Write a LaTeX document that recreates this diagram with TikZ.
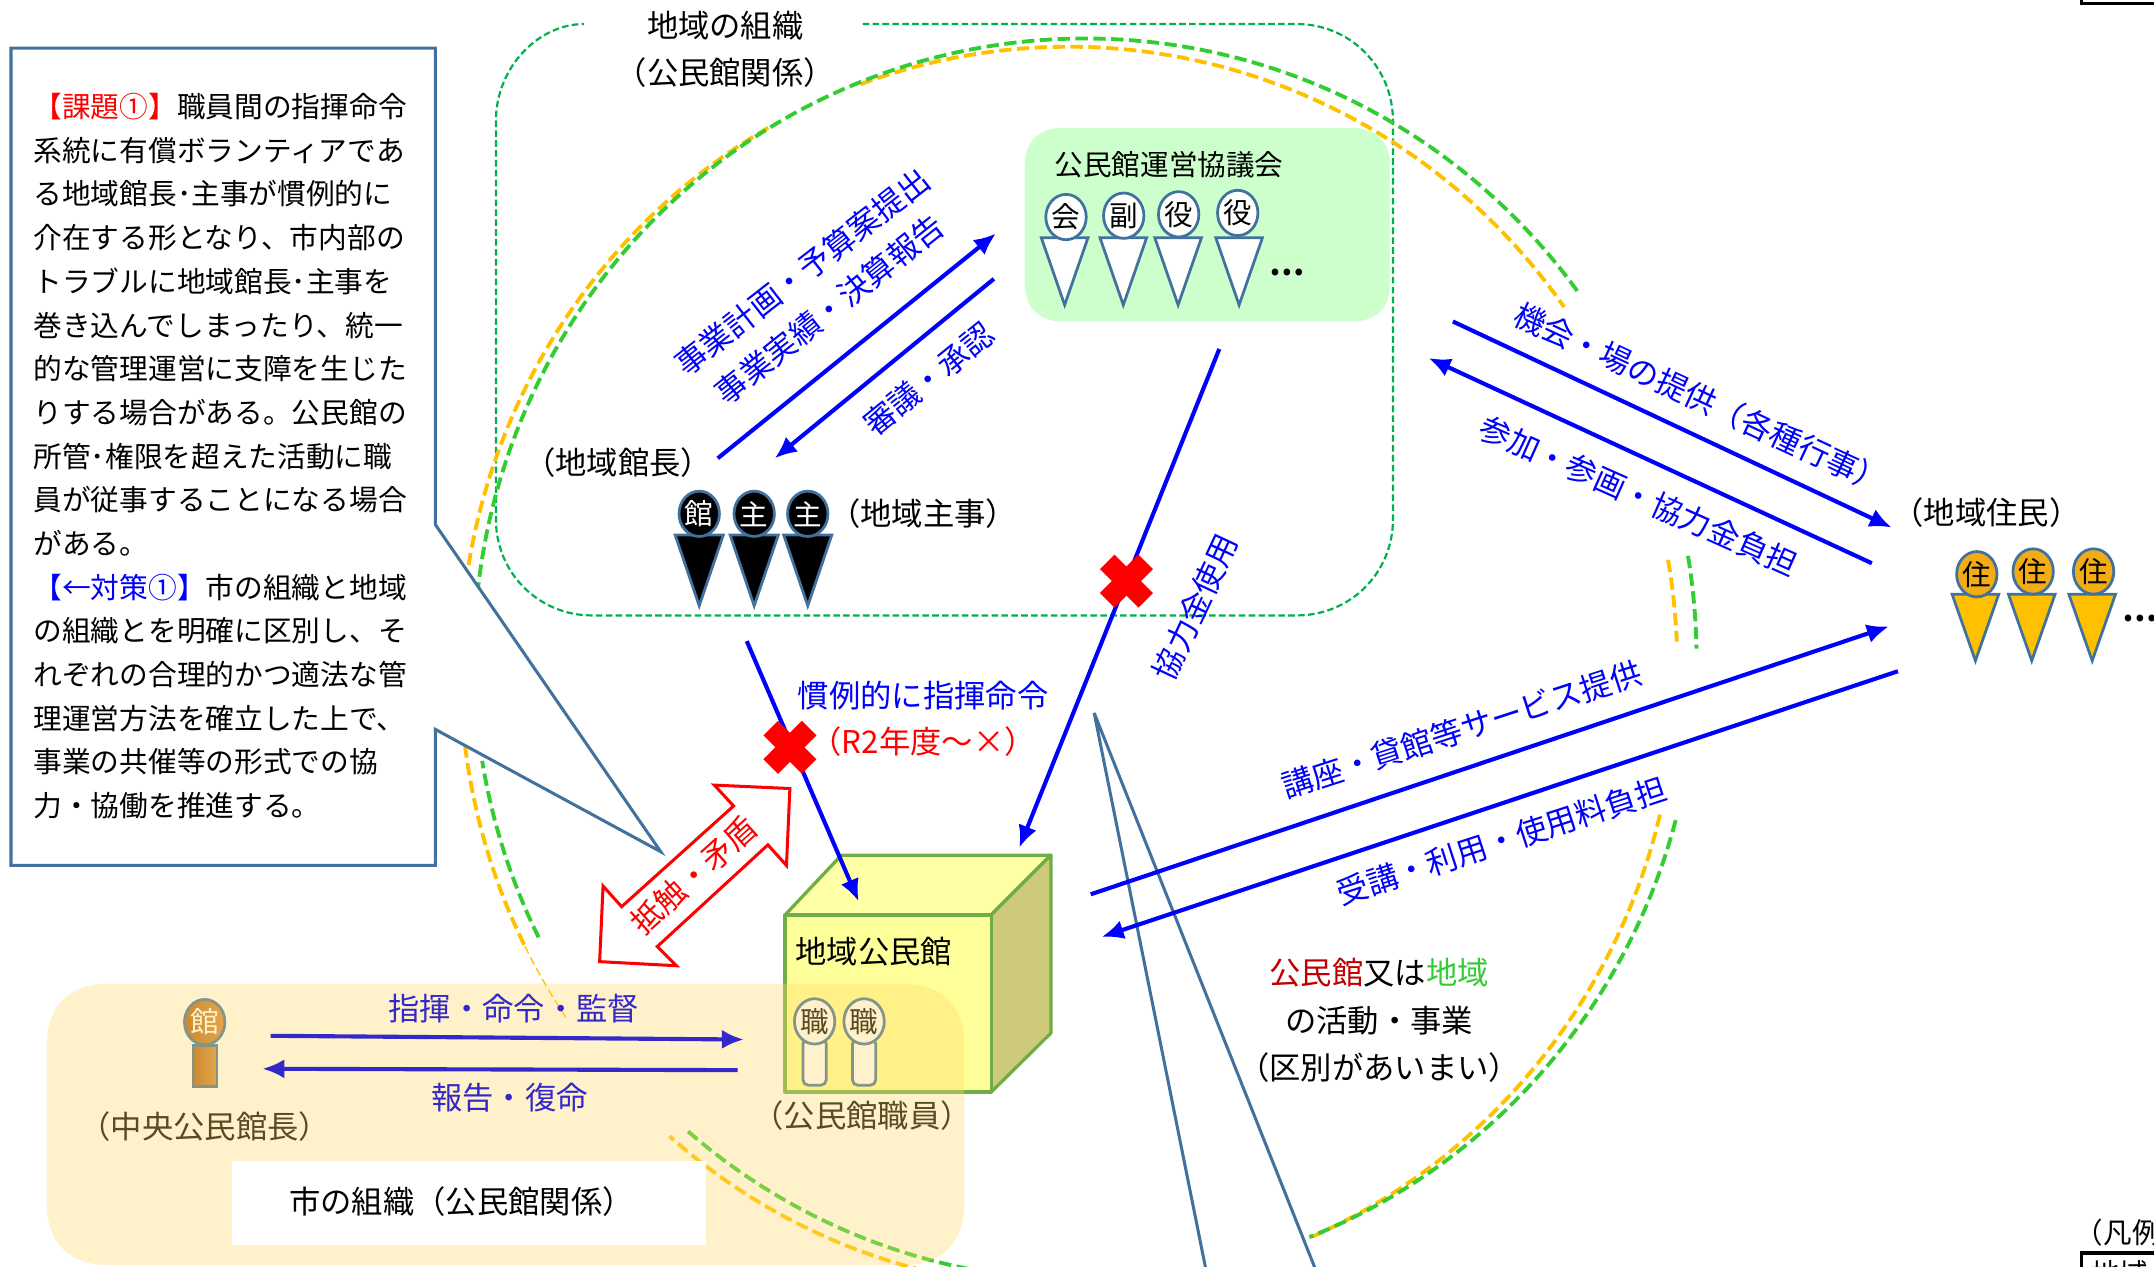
\documentclass[tikz,border=0pt]{standalone}
\usepackage{fontspec}
\setmainfont{Noto Sans CJK JP}
\usetikzlibrary{arrows.meta,shapes.geometric}
\definecolor{gline}{HTML}{00B050}
\definecolor{garc}{HTML}{33CC33}
\definecolor{oarc}{HTML}{FFC000}
\definecolor{ohead}{HTML}{F4AC14}
\definecolor{steel}{HTML}{41719C}
\definecolor{bluet}{HTML}{0000FF}
\definecolor{bluec}{HTML}{3328C8}
\definecolor{council}{HTML}{CCFFCC}
\definecolor{houseline}{HTML}{70AD47}
\definecolor{housetop}{HTML}{FFFFA6}
\definecolor{housefront}{HTML}{FFFF99}
\definecolor{houseside}{HTML}{CDCB7A}
\definecolor{browndark}{HTML}{B06018}
\definecolor{brownlight}{HTML}{D68C3C}
\definecolor{cityfill}{HTML}{FFD966}
\tikzset{
  lbl/.style={inner sep=0pt,font=\fontsize{11.4}{14}\selectfont},
  bl/.style={lbl,text=bluet},
  blc/.style={lbl,text=bluec},
  small/.style={inner sep=0pt,font=\fontsize{10.4}{12}\selectfont},
  arrbase/.style={line width=1.5pt,-{Latex[length=8pt,width=7pt]}},
  arr/.style={arrbase,draw=bluet},
  arrc/.style={arrbase,draw=bluec},
  garcs/.style={draw=garc,line width=1.4pt,dash pattern=on 4.5pt off 2pt},
  oarcs/.style={draw=oarc,line width=1.4pt,dash pattern=on 4.5pt off 2pt},
  head/.style={ellipse,draw=steel,line width=1pt,minimum width=14pt,minimum height=16.5pt,inner sep=0pt,font=\fontsize{10.4}{12}\selectfont},
  tri/.style={draw=steel,line width=1pt,line join=miter},
  cross/.style={draw=red,line width=7.5pt},
  call/.style={draw=steel,fill=white,line width=1.1pt,line join=miter},
  housef/.style={draw=houseline,line width=1.2pt,line join=round},
}
\begin{document}
\begin{tikzpicture}[x=0.5pt,y=-0.5pt]
\useasboundingbox (0,0) rectangle (1568,921.6);
% regional organisation outline
\draw[gline,line width=0.8pt,dash pattern=on 2.4pt off 1.2pt]
  (628,17.5) -- (944,17.5) .. controls (983,17.5) and (1014,49) .. (1014,88)
  -- (1014,378) .. controls (1014,417) and (983,448) .. (944,448)
  -- (431,448) .. controls (392,448) and (361,417) .. (361,378)
  -- (361,88) .. controls (361,49) and (392,17.5) .. (425,17.5);
% council
\fill[council] (774,93) -- (984,93) .. controls (1002,93) and (1012,103) .. (1012,121)
  -- (1012,206) .. controls (1012,224) and (1002,234) .. (984,234) -- (774,234) .. controls (756,234) and (746,224) .. (746,206)
  -- (746,121) .. controls (746,103) and (756,93) .. (774,93) -- cycle;
% arcs
\foreach \a/\b in {189.5/240.4,250/324.5,-10/-2.4,13.7/66.9,102/131,153.5/173}{
  \draw[oarcs] plot[domain=\a:\b,samples=90,smooth] ({778+443*cos(\x)},{486+452*sin(\x)});
}
\foreach \a/\b in {186/324,-9.6/-1,15/68.5,101/131,153.4/170.6}{
  \draw[garcs] plot[domain=\a:\b,samples=90,smooth] ({790+445*cos(\x)},{480+452*sin(\x)});
}
\draw[draw=oarc,line width=0.5pt,dash pattern=on 3pt off 1.5pt] plot[domain=145.7:153.5,samples=20,smooth] ({778+443*cos(\x)},{486+452*sin(\x)});
% callouts
\draw[call] (317,382) -- (481,620) -- (317,531) -- (317,630) -- (8,630) -- (8,35) -- (317,35) -- cycle;
\draw[call] (878,925) -- (796.5,519) -- (958,925);
\node[small,anchor=north west,align=left,font=\fontsize{10.45}{15.9}\selectfont] (note) at (24,67.5) {%
\textcolor{red}{【課題①】}職員間の指揮命令\\
系統に有償ボランティアであ\\
る地域館長･主事が慣例的に\\
介在する形となり、市内部の\\
トラブルに地域館長･主事を\\
巻き込んでしまったり、統一\\
的な管理運営に支障を生じた\\
りする場合がある。公民館の\\
所管･権限を超えた活動に職\\
員が従事することになる場合\\
がある。\\
\textcolor{blue}{【←対策①】}市の組織と地域\\
の組織とを明確に区別し、そ\\
れぞれの合理的かつ適法な管\\
理運営方法を確立した上で、\\
事業の共催等の形式での協\\
力・協働を推進する。};
% house
\draw[housef,fill=housetop] (571.5,666) -- (612.5,622.5) -- (765,622.5) -- (721.5,666) -- cycle;
\draw[housef,fill=houseside] (721.5,666) -- (765,622.5) -- (765,752) -- (721.5,795) -- cycle;
\draw[housef,fill=housefront] (571.5,666) rectangle (721.5,795);
\node[lbl] (kominkan) at (636,693) {地域公民館};
% double arrow
\draw[draw=red,line width=1.1pt,fill=white,line join=miter] (575,574) -- (520,571.5) -- (534,586.7) -- (452.5,660) -- (439,645) -- (436.5,700) -- (492.5,703) -- (478.5,689) -- (559,615) -- (572.5,630) -- cycle;
\node[lbl,text=red,rotate=42] (teishoku) at (505,637) {抵触・矛盾};
% black persons
\foreach \n/\hx/\t in {a/509/館,b/549/主,c/588/主}{
  \draw[tri,fill=black] (\hx-17.5,389.5) -- (\hx+17.5,389.5) -- (\hx,441) -- cycle;
  \node[head,fill=black,text=white] (k\n) at (\hx,374) {\t};
}
% council persons
\foreach \n/\hx/\hy/\tx/\t in {a/776/158/775/会,b/818/157/817.7/副,c/858/156/857.6/役,d/901/155/902/役}{
  \draw[tri,fill=white] (\tx-17,173) -- (\tx+17,173) -- (\tx,222) -- cycle;
  \node[head,fill=white] (c\n) at (\hx,\hy) {\t};
}
\node[lbl,font=\bfseries\fontsize{11.4}{14}\selectfont] (cdots) at (937,198) {…};
% residents
\foreach \n/\hx/\hy/\tx in {a/1439/418/1438,b/1480/416/1479,c/1524/416/1523}{
  \draw[tri,fill=oarc] (\tx-17,432.5) -- (\tx+17,432.5) -- (\tx,481) -- cycle;
  \node[head,fill=ohead] (r\n) at (\hx,\hy) {住};
}
\node[lbl,font=\bfseries\fontsize{11.4}{14}\selectfont] (rdots) at (1558,450) {…};
% staff and director
\draw[draw=steel,line width=1pt,left color=browndark,right color=brownlight] (140.5,761) rectangle (158,791);
\node[head,left color=browndark,right color=brownlight,text=white] (dir) at (149,744) {館};
\foreach \n/\hx in {a/593,b/629}{
  \draw[draw=steel,line width=1pt,fill=white,rounded corners=2pt] (\hx-8.5,756) rectangle (\hx+8.5,790);
  \node[head,fill=white] (s\n) at (\hx,743.5) {職};
}
% labels
\node[lbl] (t1) at (528,19) {地域の組織};
\node[lbl] (t2) at (528,53) {（公民館関係）};
\node[small] (t3) at (851,120) {公民館運営協議会};
\node[lbl] (t4) at (450,337) {（地域館長）};
\node[lbl] (t5) at (672,374) {（地域主事）};
\node[lbl] (t6) at (1446,373) {（地域住民）};
\node[bl,rotate=38] (b1) at (584,198) {事業計画・予算案提出};
\node[bl,rotate=38.5] (b2) at (604,225) {事業実績・決算報告};
\node[bl,rotate=39] (b3) at (676,276) {審議・承認};
\node[bl,rotate=65] (b4) at (870,442) {協力金使用};
\node[bl,rotate=-25] (b5) at (1238,290) {機会・場の提供（各種行事）};
\node[bl,rotate=-24] (b6) at (1193,361) {参加・参画・協力金負担};
\node[bl,rotate=18] (b7) at (1064,531) {講座・貸館等サービス提供};
\node[bl,rotate=18] (b8) at (1093,612) {受講・利用・使用料負担};
\node[bl] (b9) at (672,506) {慣例的に指揮命令};
\node[lbl,text=red] (b10) at (672,540) {（R2年度～×）};
\node[lbl] (b13) at (149,820) {（中央公民館長）};
\node[lbl] (b14) at (627.5,812) {（公民館職員）};
\node[lbl] (m1) at (1004,708) {\textcolor[HTML]{C00000}{公民館}又は\textcolor{garc}{地域}};
\node[lbl] (m2) at (1004,743) {の活動・事業};
\node[lbl] (m3) at (1004,777) {（区別があいまい）};
% arrow ends
\coordinate (a1s) at (522.5,333.6); \coordinate (a1e) at (725,170);
\coordinate (a2s) at (723.5,203); \coordinate (a2e) at (564,333.6);
\coordinate (a3s) at (887.6,254); \coordinate (a3e) at (742,617);
\coordinate (a4s) at (1057.6,234); \coordinate (a4e) at (1377,384);
\coordinate (a5s) at (1362.6,410); \coordinate (a5e) at (1040,260.7);
\coordinate (a6s) at (794,651); \coordinate (a6e) at (1375,456);
\coordinate (a7s) at (1381.6,488.6); \coordinate (a7e) at (802,682);
\coordinate (a8s) at (543.6,466.7); \coordinate (a8e) at (625,656);
\coordinate (a9s) at (197,754); \coordinate (a9e) at (541.5,756.7);
\coordinate (a10s) at (537,779); \coordinate (a10e) at (191,778);
\foreach \i in {1,...,8}{ \draw[arr] (a\i s) -- (a\i e); }
% crosses
\coordinate (x1) at (820,423); \coordinate (x2) at (575,544);
\foreach \c in {x1,x2}{
  \draw[cross] ([xshift=-7pt,yshift=7pt]\c) -- ([xshift=7pt,yshift=-7pt]\c);
  \draw[cross] ([xshift=-7pt,yshift=-7pt]\c) -- ([xshift=7pt,yshift=7pt]\c);
}
% city organisation overlay
\fill[fill=cityfill,opacity=0.35] (80,716) -- (656,716) .. controls (686,716) and (702,732) .. (702,762)
  -- (702,875) .. controls (702,905) and (686,921) .. (656,921) -- (80,921) .. controls (50,921) and (34,905) .. (34,875)
  -- (34,762) .. controls (34,732) and (50,716) .. (80,716) -- cycle;
\fill[white] (169,845) rectangle (514,906);
\node[lbl] (city) at (336,874.6) {市の組織（公民館関係）};
\draw[arrc] (a9s) -- (a9e);
\draw[arrc] (a10s) -- (a10e);
\node[blc] (b11) at (374,734) {指揮・命令・監督};
\node[blc] (b12) at (371,799) {報告・復命};
% legend fragments at the page edge
\node[lbl,anchor=west,font=\fontsize{10.4}{12}\selectfont] (legend) at (1510,897) {（凡例};
\draw[black,line width=1.2pt] (1515,0) -- (1515,2.5) -- (1575,2.5);
\draw[black,line width=1.2pt] (1575,912) -- (1515,912) -- (1515,930);
\node[anchor=west,inner sep=0pt,font=\fontsize{10.4}{12}\selectfont] (legendbox) at (1522,927) {地域};
\end{tikzpicture}
\end{document}
